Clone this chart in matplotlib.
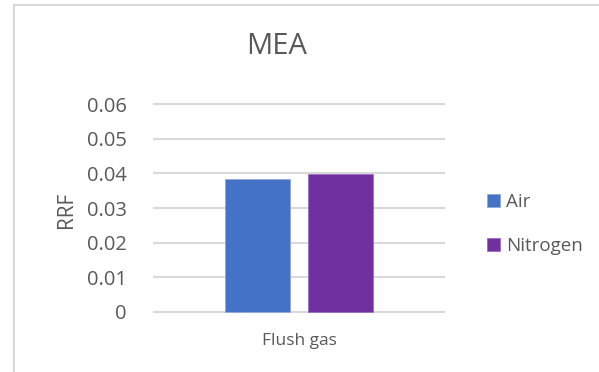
import matplotlib.pyplot as plt
from matplotlib.patches import Rectangle

# data
categories = ["Flush gas"]
series_names = ["Air", "Nitrogen"]
air_values = [0.0383]
nitrogen_values = [0.0397]
y_ticks = [0, 0.01, 0.02, 0.03, 0.04, 0.05, 0.06]
y_tick_labels = ["0", "0.01", "0.02", "0.03", "0.04", "0.05", "0.06"]

colors = ["#4472C4", "#7030A0"]
text_color = "#595959"
grid_color = "#D9D9D9"

plt.rcParams['font.family'] = ['Open Sans', 'DejaVu Sans']

fig = plt.figure(figsize=(5.99, 3.72), dpi=100)
ax = fig.add_axes([153 / 599, 1 - 313 / 372, 292 / 599, 210 / 372])

# outer chart border (cut off at right and bottom like the screenshot)
fig.patches.append(Rectangle((14 / 599, -0.1), 1.2, (372 - 4.5) / 372 + 0.1,
                             transform=fig.transFigure, fill=False,
                             edgecolor=grid_color, linewidth=1.5))

bar_w = 0.223
offset = 0.142
x = list(range(len(categories)))
ax.bar([i - offset for i in x], air_values, width=bar_w, color=colors[0],
       label=series_names[0], edgecolor="#8FAADC", linewidth=0.6, zorder=3)
ax.bar([i + offset for i in x], nitrogen_values, width=bar_w, color=colors[1],
       label=series_names[1], edgecolor="#9E6BC4", linewidth=0.6, zorder=3)

ax.set_xlim(-0.5, 0.5)
ax.set_yticks(y_ticks)
ax.set_yticklabels(y_tick_labels)
ax.set_xticks(x)
ax.set_xticklabels([])
ax.tick_params(axis="y", length=0, pad=19, labelsize=14.5, labelcolor=text_color)
ax.tick_params(axis="x", length=0)
ax.grid(axis="y", color=grid_color, linewidth=1.5, zorder=0)
ax.set_axisbelow(True)
for s in ax.spines.values():
    s.set_visible(False)
ax.set_ylim(-0.0003, 0.0603)

fig.text(66 / 599, 1 - 210 / 372, "RRF", rotation=90, ha="center", va="center",
         fontsize=15, color=text_color)
fig.text(299 / 599, 1 - 341 / 372, categories[0], ha="center", va="center",
         fontsize=12.5, color=text_color)
fig.text(277 / 599, 1 - 47 / 372, "MEA", ha="center", va="center",
         fontsize=21, color=text_color)

fig.legend(loc="center left", bbox_to_anchor=(470 / 599, 1 - 224 / 372),
           frameon=False, handlelength=0.7, handleheight=0.7,
           handletextpad=0.3, labelspacing=1.4, fontsize=13.5,
           labelcolor=text_color)

fig.savefig("out.png", dpi=100)
